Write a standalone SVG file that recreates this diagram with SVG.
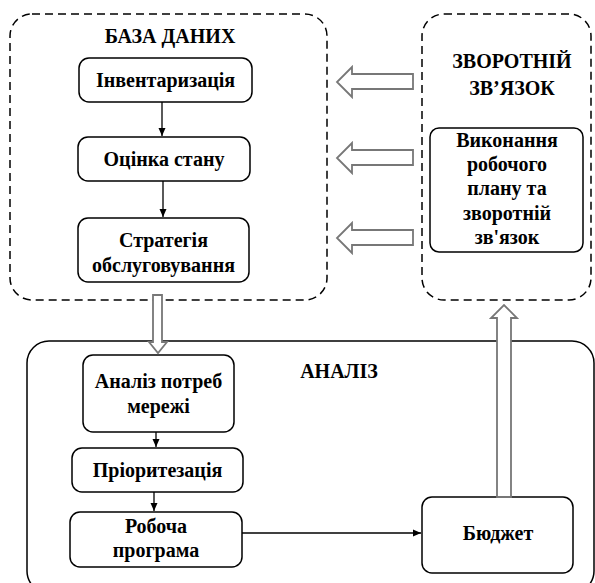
<svg xmlns="http://www.w3.org/2000/svg" width="595" height="583" viewBox="0 0 595 583">
<defs>
<marker id="ah" markerWidth="10" markerHeight="10" refX="9" refY="5" orient="auto" markerUnits="userSpaceOnUse">
<path d="M1,1.5 L9,5 L1,8.5 Z" fill="#000"/>
</marker>
<style>
.t{font-family:"Liberation Serif","Times New Roman",serif;font-weight:bold;font-size:20px;fill:#000;text-anchor:middle}
.n{fill:#fff;stroke:#000;stroke-width:1.5}
.grp{fill:none;stroke:#000;stroke-width:1.5;stroke-dasharray:8 5}
.grs{fill:#fff;stroke:#000;stroke-width:1.5}
.c{fill:none;stroke:#000;stroke-width:1.3}
.h{fill:#fff;stroke:#777;stroke-width:1.8;stroke-linejoin:miter}
</style>
</defs>
<rect width="595" height="583" fill="#fff"/>

<g id="group-analiz">
<rect class="grs" x="27" y="341" width="567" height="252" rx="22"/>
<text class="t" x="339" y="378">АНАЛІЗ</text>
</g>

<g id="group-baza">
<rect class="grp" x="10" y="14" width="317" height="286" rx="22"/>
<text class="t" x="170" y="43">БАЗА ДАНИХ</text>
</g>

<g id="group-zvorotnii">
<rect class="grp" x="422" y="14" width="169" height="286" rx="22"/>
<text class="t" x="512" y="68">ЗВОРОТНІЙ</text>
<text class="t" x="512" y="95">ЗВ’ЯЗОК</text>
</g>

<g id="inventaryzatsiia">
<rect class="n" x="79" y="58" width="173" height="44" rx="10"/>
<text class="t" x="165.5" y="87">Інвентаризація</text>
</g>
<g id="otsinka">
<rect class="n" x="78" y="137" width="172" height="44" rx="10"/>
<text class="t" x="164" y="166">Оцінка стану</text>
</g>
<g id="stratehiia">
<rect class="n" x="78" y="218" width="171" height="64" rx="10"/>
<text class="t" x="163.5" y="247">Стратегія</text>
<text class="t" x="163.5" y="272">обслуговування</text>
</g>
<g id="vykonannia">
<rect class="n" x="430" y="128" width="153" height="124" rx="9"/>
<text class="t" x="507" y="147">Виконання</text>
<text class="t" x="507" y="171">робочого</text>
<text class="t" x="507" y="195">плану та</text>
<text class="t" x="507" y="220">зворотній</text>
<text class="t" x="507" y="244">зв'язок</text>
</g>
<g id="analiz-potreb">
<rect class="n" x="83" y="355" width="151" height="77" rx="10"/>
<text class="t" x="158.5" y="388">Аналіз потреб</text>
<text class="t" x="158.5" y="413">мережі</text>
</g>
<g id="priorytezatsiia">
<rect class="n" x="72" y="448" width="171" height="44" rx="10"/>
<text class="t" x="157.5" y="477">Пріоритезація</text>
</g>
<g id="robocha">
<rect class="n" x="70" y="512" width="172" height="55" rx="10"/>
<text class="t" x="156" y="533">Робоча</text>
<text class="t" x="156" y="557">програма</text>
</g>
<g id="biudzhet">
<rect class="n" x="422" y="497" width="151" height="76" rx="10"/>
<text class="t" x="498" y="540">Бюджет</text>
</g>

<g id="connectors">
<line class="c" x1="162" y1="102" x2="162" y2="136" marker-end="url(#ah)"/>
<line class="c" x1="163" y1="181" x2="163" y2="217" marker-end="url(#ah)"/>
<line class="c" x1="156" y1="432" x2="156" y2="447" marker-end="url(#ah)"/>
<line class="c" x1="154" y1="492" x2="154" y2="511" marker-end="url(#ah)"/>
<line class="c" x1="242" y1="533" x2="421" y2="533" marker-end="url(#ah)"/>
<path class="h" d="M413,74 L352,74 L352,67 L337,82 L352,97 L352,89 L413,89 Z"/>
<path class="h" d="M413,150 L352,150 L352,143 L337,158 L352,173 L352,165 L413,165 Z"/>
<path class="h" d="M413,230 L352,230 L352,223 L337,238 L352,253 L352,245 L413,245 Z"/>
<path class="h" d="M153,295 L153,342 L149,342 L158,353 L167,342 L162,342 L162,295 Z"/>
<path class="h" d="M497,497 L497,318 L491,318 L504,305 L517,318 L511,318 L511,497 Z"/>
</g>
</svg>
